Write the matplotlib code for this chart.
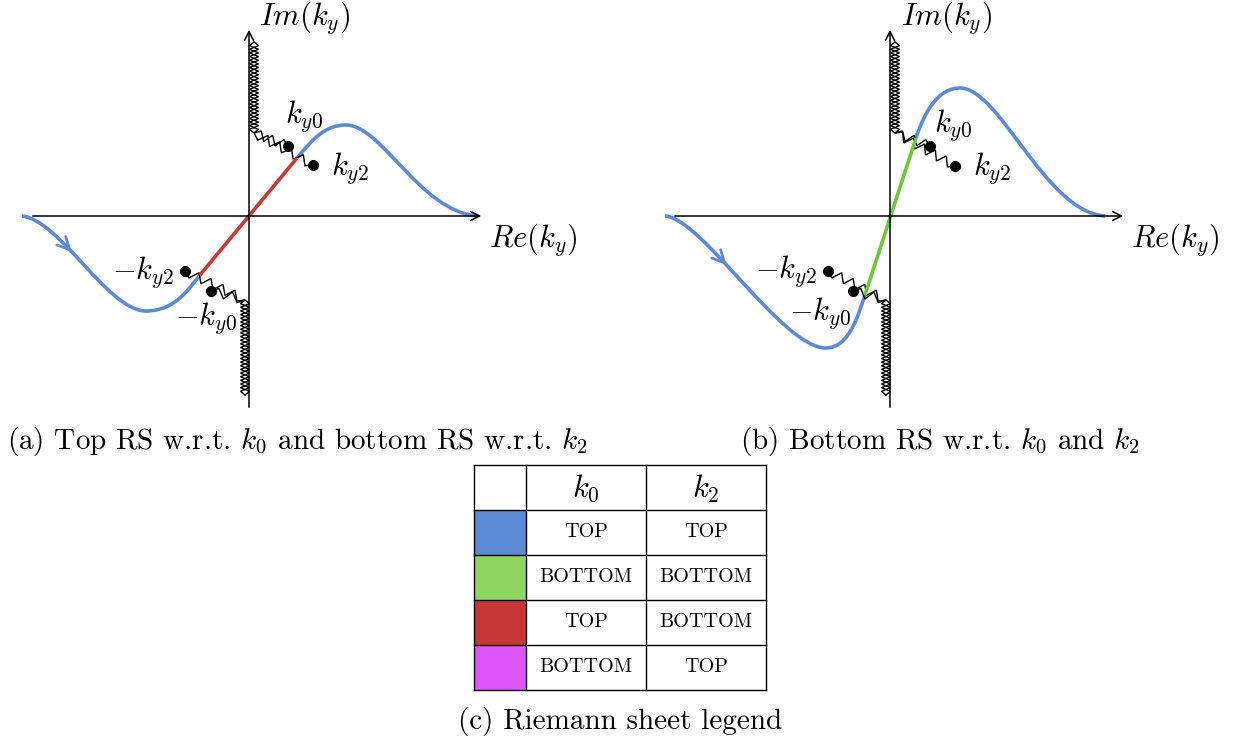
"""
Riemann sheet sketch: integration paths in the complex k_y plane with branch cuts.
"""

import numpy as np
import matplotlib.pyplot as plt
from matplotlib.path import Path
from matplotlib.patches import PathPatch, Rectangle
from matplotlib.bezier import BezierSegment

plt.rcParams['mathtext.fontset'] = 'cm'
plt.rcParams['font.family'] = 'cmr10'

BLUE = '#5b8bd5'
GREEN = '#6cc93a'
RED = '#cc3737'

# --- panel geometry (pixel space) ---
origin_a = (249, 216)
origin_b = (890, 216)

# contour for (a): bezier control points, left branch / straight part / right branch
path_a_left = [(22, 216), (60, 220), (108, 311), (146, 311), (176, 311), (190, 287), (200, 275)]
path_a_mid = [(200, 275), (297, 158)]
path_a_right = [(297, 158), (313, 139), (325, 125), (346, 125), (382, 125), (420, 212), (478, 216)]

# contour for (b)
path_b_left = [(665, 216), (702, 218), (782, 348), (826, 348), (850, 348), (859, 312), (865, 295)]
path_b_mid = [(865, 295), (916, 138)]
path_b_right = [(916, 138), (925, 110), (939, 88), (960, 88), (1000, 88), (1045, 212), (1105, 216)]

# branch points
pts_a = {'ky0': (288, 146), 'ky2': (313, 165), '-ky2': (185, 271), '-ky0': (211, 291)}
pts_b = {'ky0': (930, 146), 'ky2': (955, 166), '-ky2': (828, 271), '-ky0': (853, 291)}

# table
col_headers = [r'$k_0$', r'$k_2$']
sheet_colors = ['#5b8bd5', '#8ed65f', '#c83737', '#de55fa']
sheet_k0 = ['TOP', 'BOTTOM', 'TOP', 'BOTTOM']
sheet_k2 = ['TOP', 'BOTTOM', 'BOTTOM', 'TOP']


def zigzag(p0, p1, step, amp, phase=1):
    p0 = np.asarray(p0, float)
    p1 = np.asarray(p1, float)
    d = p1 - p0
    L = np.hypot(*d)
    u = d / L
    nrm = np.array([-u[1], u[0]])
    n = max(int(round(L / step)), 2)
    pts = [p0]
    for i in range(1, n):
        off = amp * phase * (1 if i % 2 else -1)
        pts.append(p0 + d * i / n + nrm * off)
    pts.append(p1)
    return np.array(pts)


def draw_cut(ax, dot, corner, end, phase):
    # diagonal part from the branch point, then along the imaginary axis
    a = zigzag(dot, corner, 6.5, 4.5, phase)
    b = zigzag(corner, end, 3.7, 4.5, phase)
    pts = np.vstack([a, b])
    ax.plot(pts[:, 0], pts[:, 1], color='black', lw=1.0, solid_joinstyle='miter')
    ax.plot(*dot, 'o', color='black', ms=7)


def bezier_path(cp):
    codes = [Path.MOVETO] + [Path.CURVE4] * (len(cp) - 1)
    return Path(cp, codes)


def draw_contour(ax, left, mid, right, mid_color, arrow_t):
    for cp in (left, right):
        ax.add_patch(PathPatch(bezier_path(cp), fill=False, edgecolor=BLUE, lw=2.6, capstyle='butt'))
    mx, my = zip(*mid)
    ax.plot(mx, my, color=mid_color, lw=2.6, solid_capstyle='butt')
    seg = BezierSegment(np.array(left[:4], float))
    tip = seg.point_at_t(arrow_t)
    tail = seg.point_at_t(arrow_t - 0.03)
    ax.annotate('', xy=tip, xytext=tail,
                arrowprops=dict(arrowstyle='->', color=BLUE, lw=2.0, mutation_scale=22))


def draw_axes(ax, origin, x0, x1, y0, y1):
    ox, oy = origin
    ax.annotate('', xy=(x1, oy), xytext=(x0, oy),
                arrowprops=dict(arrowstyle='->', color='black', lw=1.1, mutation_scale=16))
    ax.annotate('', xy=(ox, y1), xytext=(ox, y0),
                arrowprops=dict(arrowstyle='->', color='black', lw=1.1, mutation_scale=16))


fig = plt.figure(figsize=(12.33, 7.45), dpi=100)
ax = fig.add_axes([0, 0, 1, 1])
ax.set_xlim(0, 1233)
ax.set_ylim(745, 0)
ax.axis('off')

LBL = 22

# ---- panel (a) ----
draw_axes(ax, origin_a, 30, 484, 410, 27)
draw_cut(ax, pts_a['ky0'], (254, 133), (254, 42), 1)
draw_cut(ax, pts_a['ky2'], (254, 133), (254, 42), -1)
draw_cut(ax, pts_a['-ky2'], (245, 300), (245, 395), 1)
draw_cut(ax, pts_a['-ky0'], (245, 300), (245, 395), -1)
draw_contour(ax, path_a_left, path_a_mid, path_a_right, RED, 0.42)

ax.text(305, 18, r'$Im(k_y)$', fontsize=LBL, ha='center', va='center')
ax.text(533, 240, r'$Re(k_y)$', fontsize=LBL, ha='center', va='center')
ax.text(304, 116, r'$k_{y0}$', fontsize=LBL, ha='center', va='center')
ax.text(350, 168, r'$k_{y2}$', fontsize=LBL, ha='center', va='center')
ax.text(143, 272, r'$-k_{y2}$', fontsize=LBL, ha='center', va='center')
ax.text(206, 318, r'$-k_{y0}$', fontsize=LBL, ha='center', va='center')
ax.text(297, 442, r'(a) Top RS w.r.t. $k_0$ and bottom RS w.r.t. $k_2$',
        fontsize=21, ha='center', va='center')

# ---- panel (b) ----
draw_axes(ax, origin_b, 672, 1126, 410, 27)
draw_cut(ax, pts_b['ky0'], (895, 133), (895, 42), 1)
draw_cut(ax, pts_b['ky2'], (895, 133), (895, 42), -1)
draw_cut(ax, pts_b['-ky2'], (886, 300), (886, 395), 1)
draw_cut(ax, pts_b['-ky0'], (886, 300), (886, 395), -1)
draw_contour(ax, path_b_left, path_b_mid, path_b_right, GREEN, 0.42)

ax.text(947, 18, r'$Im(k_y)$', fontsize=LBL, ha='center', va='center')
ax.text(1175, 240, r'$Re(k_y)$', fontsize=LBL, ha='center', va='center')
ax.text(953, 125, r'$k_{y0}$', fontsize=LBL, ha='center', va='center')
ax.text(992, 168, r'$k_{y2}$', fontsize=LBL, ha='center', va='center')
ax.text(786, 271, r'$-k_{y2}$', fontsize=LBL, ha='center', va='center')
ax.text(820, 313, r'$-k_{y0}$', fontsize=LBL, ha='center', va='center')
ax.text(940, 442, r'(b) Bottom RS w.r.t. $k_0$ and $k_2$',
        fontsize=21, ha='center', va='center')

# ---- legend table (c) ----
col_x = [474, 526, 646, 766]
row_y = [465, 510, 555, 600, 645, 690]
for i, c in enumerate(sheet_colors):
    ax.add_patch(Rectangle((col_x[0], row_y[i + 1]), col_x[1] - col_x[0],
                           row_y[i + 2] - row_y[i + 1], facecolor=c, edgecolor='none'))
for xv in col_x:
    ax.plot([xv, xv], [row_y[0], row_y[-1]], color='black', lw=1.0)
for yv in row_y:
    ax.plot([col_x[0], col_x[-1]], [yv, yv], color='black', lw=1.0)
for j, h in enumerate(col_headers):
    ax.text((col_x[j + 1] + col_x[j + 2]) / 2, (row_y[0] + row_y[1]) / 2 + 1, h,
            fontsize=22, ha='center', va='center')
for i in range(len(sheet_colors)):
    yc = (row_y[i + 1] + row_y[i + 2]) / 2
    ax.text((col_x[1] + col_x[2]) / 2, yc, sheet_k0[i], fontsize=14.5, ha='center', va='center')
    ax.text((col_x[2] + col_x[3]) / 2, yc, sheet_k2[i], fontsize=14.5, ha='center', va='center')
ax.text(620, 722, '(c) Riemann sheet legend', fontsize=21, ha='center', va='center')

fig.savefig('out.png', dpi=100)
